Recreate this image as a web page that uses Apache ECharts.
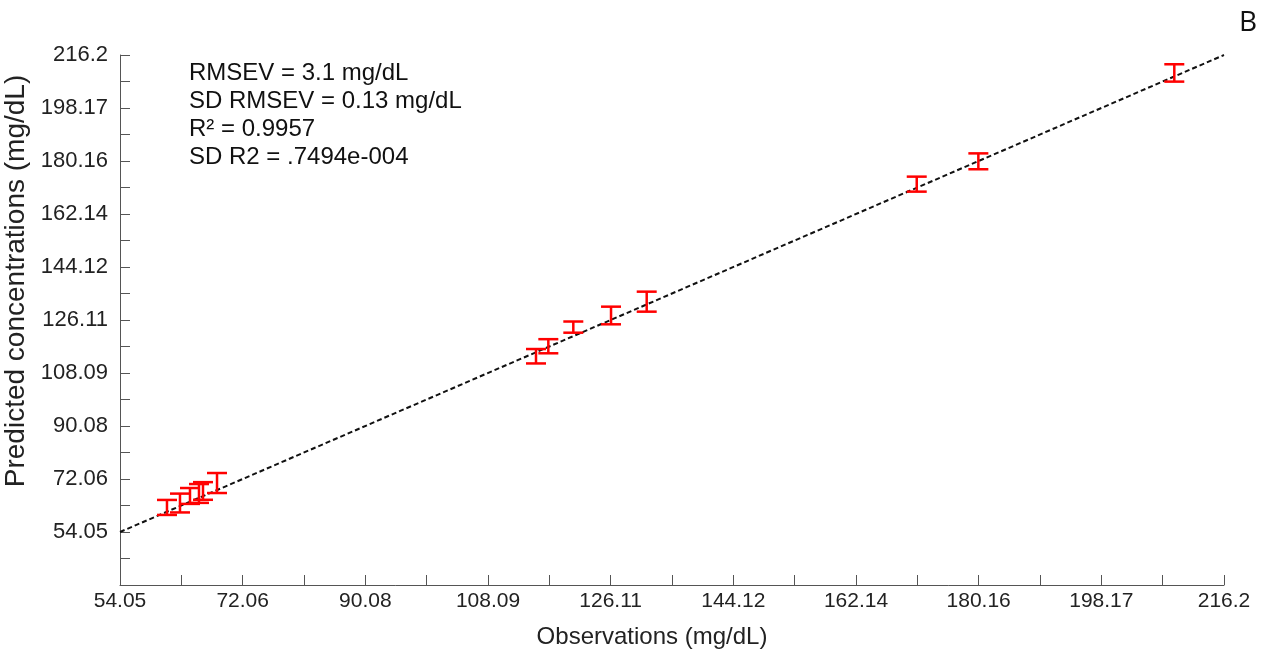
<!DOCTYPE html>
<html>
<head>
<meta charset="utf-8">
<script src="https://cdn.jsdelivr.net/npm/echarts@6/dist/echarts.min.js"></script>
<style>
html,body{margin:0;padding:0;background:#fff;}
#chart{width:1273px;height:655px;}
</style>
</head>
<body>
<div id="chart"></div>
<script>
// ---- data ----
var observations = [60.95, 62.86, 64.33, 65.65, 66.24, 68.3, 115.15, 116.96, 120.63, 126.17, 131.41, 171.07, 180.12, 208.9];
var predicted    = [62.4, 63.9, 66.3, 67.15, 68.0, 70.7, 113.8, 117.2, 123.7, 127.65, 132.35, 172.3, 180.06, 210.1];
var predictedSD  = [2.55, 3.2, 2.7, 3.2, 3.0, 3.4, 2.45, 2.4, 1.9, 3.0, 3.4, 2.55, 2.7, 2.95];
var identityLine = [[54.05, 54.05], [216.2, 216.2]];
var tickLabels = ['54.05', '72.06', '90.08', '108.09', '126.11', '144.12', '162.14', '180.16', '198.17', '216.2'];
var statsText = ['RMSEV = 3.1 mg/dL', 'SD RMSEV = 0.13 mg/dL', 'R\u00B2 = 0.9957', 'SD R2 = .7494e-004'];
var panelLetter = 'B';
var xName = 'Observations (mg/dL)';
var yName = 'Predicted concentrations (mg/dL)';

var axisMin = 54.05, axisMax = 216.2;
var step = (axisMax - axisMin) / 9;

function fmt(v) {
  var i = Math.round((v - axisMin) / step);
  return (i >= 0 && i < tickLabels.length) ? tickLabels[i] : '';
}

var errData = observations.map(function (x, i) {
  return [x, predicted[i] - predictedSD[i], predicted[i] + predictedSD[i]];
});

var font = "'Liberation Sans', Arial, sans-serif";
var axisColor = '#555';

var chart = echarts.init(document.getElementById('chart'), null, {renderer: 'canvas'});
chart.setOption({
  animation: false,
  backgroundColor: '#fff',
  grid: {left: 120, right: 49, top: 55, bottom: 70, containLabel: false, outerBoundsMode: 'none'},
  xAxis: {
    type: 'value',
    min: axisMin, max: axisMax, interval: step,
    name: xName, nameLocation: 'middle', nameGap: 40,
    nameTextStyle: {fontFamily: font, fontSize: 24, color: '#222', padding: [0, 40, 0, 0]},
    axisLine: {show: true, lineStyle: {color: axisColor, width: 1}},
    axisTick: {show: true, inside: true, length: 10, lineStyle: {color: axisColor}},
    minorTick: {show: true, splitNumber: 2, length: 10, lineStyle: {color: axisColor}},
    splitLine: {show: false},
    axisLabel: {formatter: fmt, fontFamily: font, fontSize: 21, color: '#222', margin: 6, showMinLabel: true, showMaxLabel: true}
  },
  yAxis: {
    type: 'value',
    min: axisMin - step, max: axisMax, interval: step,
    name: yName, nameLocation: 'middle', nameGap: 90,
    nameTextStyle: {fontFamily: font, fontSize: 28, color: '#222', padding: [0, 0, 0, 78]},
    axisLine: {show: true, lineStyle: {color: axisColor, width: 1}},
    axisTick: {show: true, inside: true, length: 10, lineStyle: {color: axisColor}},
    minorTick: {show: true, splitNumber: 2, length: 10, lineStyle: {color: axisColor}},
    splitLine: {show: false},
    axisLabel: {formatter: fmt, fontFamily: font, fontSize: 22, color: '#222', margin: 12, showMinLabel: true, showMaxLabel: true}
  },
  series: [
    {
      type: 'line',
      data: identityLine,
      symbol: 'none',
      lineStyle: {color: '#111', width: 2, type: [5, 3]},
      z: 3
    },
    {
      type: 'custom',
      data: errData,
      z: 4,
      renderItem: function (params, api) {
        var x = api.value(0);
        var lo = api.coord([x, api.value(1)]);
        var hi = api.coord([x, api.value(2)]);
        var hw = 10;
        var style = {stroke: '#ff0000', lineWidth: 2.5};
        return {
          type: 'group',
          children: [
            {type: 'line', shape: {x1: lo[0], y1: lo[1], x2: hi[0], y2: hi[1]}, style: style},
            {type: 'line', shape: {x1: lo[0] - hw, y1: lo[1], x2: lo[0] + hw, y2: lo[1]}, style: style},
            {type: 'line', shape: {x1: hi[0] - hw, y1: hi[1], x2: hi[0] + hw, y2: hi[1]}, style: style}
          ]
        };
      }
    }
  ],
  graphic: [
    {
      type: 'text', left: 189, top: 59,
      style: {text: statsText.join('\n'), font: "24px 'Liberation Sans', Arial, sans-serif", fill: '#111', lineHeight: 28}
    },
    {
      type: 'text', left: 1239, top: 9,
      style: {text: panelLetter, font: "28px 'Open Sans', 'Liberation Sans', sans-serif", fill: '#111'}
    }
  ]
});
</script>
</body>
</html>
